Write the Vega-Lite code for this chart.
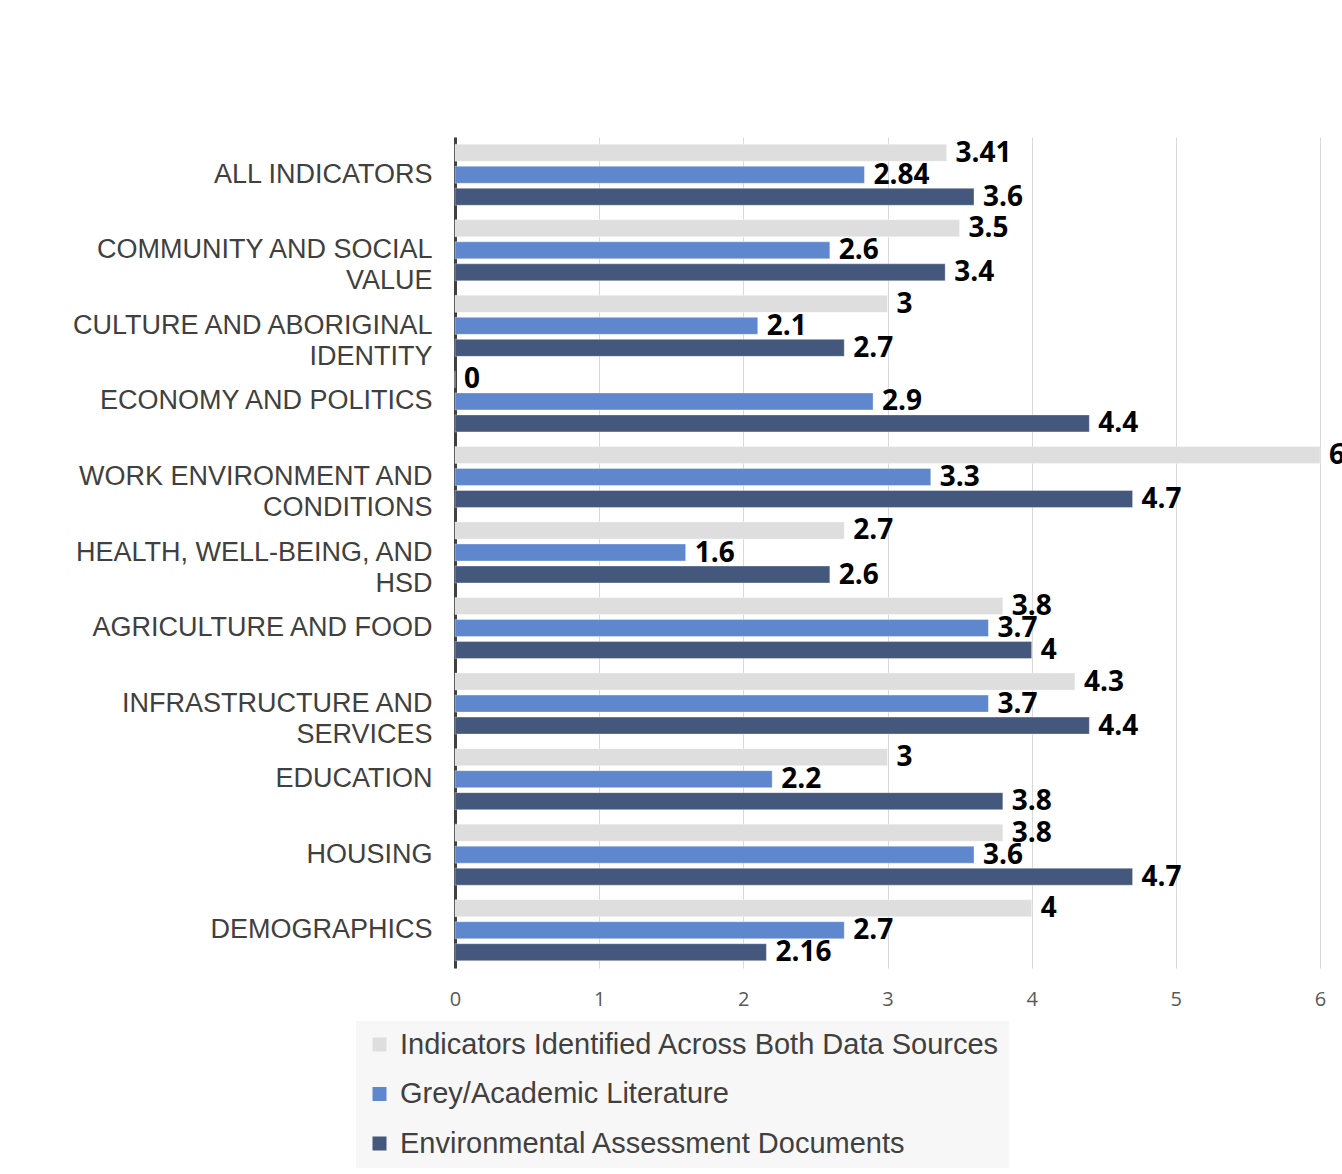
{
  "$schema": "https://vega.github.io/schema/vega-lite/v6.json",
  "autosize": "none",
  "padding": {"left": 455, "top": 137, "right": 22, "bottom": 206},
  "width": 865,
  "height": 831,
  "background": "#ffffff",
  "config": {
    "view": {"stroke": null},
    "font": "Liberation Sans"
  },
  "data": {
    "values": [
      {"cat": "ALL INDICATORS", "series": "Indicators Identified Across Both Data Sources", "ord": 1, "value": 3.41},
      {"cat": "ALL INDICATORS", "series": "Grey/Academic Literature", "ord": 2, "value": 2.84},
      {"cat": "ALL INDICATORS", "series": "Environmental Assessment Documents", "ord": 3, "value": 3.6},
      {"cat": "COMMUNITY AND SOCIAL|VALUE", "series": "Indicators Identified Across Both Data Sources", "ord": 1, "value": 3.5},
      {"cat": "COMMUNITY AND SOCIAL|VALUE", "series": "Grey/Academic Literature", "ord": 2, "value": 2.6},
      {"cat": "COMMUNITY AND SOCIAL|VALUE", "series": "Environmental Assessment Documents", "ord": 3, "value": 3.4},
      {"cat": "CULTURE AND ABORIGINAL|IDENTITY", "series": "Indicators Identified Across Both Data Sources", "ord": 1, "value": 3},
      {"cat": "CULTURE AND ABORIGINAL|IDENTITY", "series": "Grey/Academic Literature", "ord": 2, "value": 2.1},
      {"cat": "CULTURE AND ABORIGINAL|IDENTITY", "series": "Environmental Assessment Documents", "ord": 3, "value": 2.7},
      {"cat": "ECONOMY AND POLITICS", "series": "Indicators Identified Across Both Data Sources", "ord": 1, "value": 0},
      {"cat": "ECONOMY AND POLITICS", "series": "Grey/Academic Literature", "ord": 2, "value": 2.9},
      {"cat": "ECONOMY AND POLITICS", "series": "Environmental Assessment Documents", "ord": 3, "value": 4.4},
      {"cat": "WORK ENVIRONMENT AND|CONDITIONS", "series": "Indicators Identified Across Both Data Sources", "ord": 1, "value": 6},
      {"cat": "WORK ENVIRONMENT AND|CONDITIONS", "series": "Grey/Academic Literature", "ord": 2, "value": 3.3},
      {"cat": "WORK ENVIRONMENT AND|CONDITIONS", "series": "Environmental Assessment Documents", "ord": 3, "value": 4.7},
      {"cat": "HEALTH, WELL-BEING, AND|HSD", "series": "Indicators Identified Across Both Data Sources", "ord": 1, "value": 2.7},
      {"cat": "HEALTH, WELL-BEING, AND|HSD", "series": "Grey/Academic Literature", "ord": 2, "value": 1.6},
      {"cat": "HEALTH, WELL-BEING, AND|HSD", "series": "Environmental Assessment Documents", "ord": 3, "value": 2.6},
      {"cat": "AGRICULTURE AND FOOD", "series": "Indicators Identified Across Both Data Sources", "ord": 1, "value": 3.8},
      {"cat": "AGRICULTURE AND FOOD", "series": "Grey/Academic Literature", "ord": 2, "value": 3.7},
      {"cat": "AGRICULTURE AND FOOD", "series": "Environmental Assessment Documents", "ord": 3, "value": 4},
      {"cat": "INFRASTRUCTURE AND|SERVICES", "series": "Indicators Identified Across Both Data Sources", "ord": 1, "value": 4.3},
      {"cat": "INFRASTRUCTURE AND|SERVICES", "series": "Grey/Academic Literature", "ord": 2, "value": 3.7},
      {"cat": "INFRASTRUCTURE AND|SERVICES", "series": "Environmental Assessment Documents", "ord": 3, "value": 4.4},
      {"cat": "EDUCATION", "series": "Indicators Identified Across Both Data Sources", "ord": 1, "value": 3},
      {"cat": "EDUCATION", "series": "Grey/Academic Literature", "ord": 2, "value": 2.2},
      {"cat": "EDUCATION", "series": "Environmental Assessment Documents", "ord": 3, "value": 3.8},
      {"cat": "HOUSING", "series": "Indicators Identified Across Both Data Sources", "ord": 1, "value": 3.8},
      {"cat": "HOUSING", "series": "Grey/Academic Literature", "ord": 2, "value": 3.6},
      {"cat": "HOUSING", "series": "Environmental Assessment Documents", "ord": 3, "value": 4.7},
      {"cat": "DEMOGRAPHICS", "series": "Indicators Identified Across Both Data Sources", "ord": 1, "value": 4},
      {"cat": "DEMOGRAPHICS", "series": "Grey/Academic Literature", "ord": 2, "value": 2.7},
      {"cat": "DEMOGRAPHICS", "series": "Environmental Assessment Documents", "ord": 3, "value": 2.16}
    ]
  },
  "encoding": {
    "y": {
      "field": "cat",
      "type": "nominal",
      "sort": null,
      "scale": {"paddingInner": 0, "paddingOuter": 0},
      "axis": {
        "title": null,
        "labelExpr": "split(datum.label, '|')",
        "labelFont": "Liberation Sans",
        "labelFontSize": 27,
        "labelColor": "#404040",
        "labelLineHeight": 31,
        "labelPadding": 23,
        "labelLimit": 500,
        "labelOverlap": false,
        "ticks": false,
        "domain": true,
        "domainColor": "#404040",
        "domainWidth": 3,
        "grid": false
      }
    },
    "yOffset": {
      "field": "ord",
      "type": "ordinal",
      "scale": {"paddingInner": 0.227, "paddingOuter": 0.33}
    },
    "x": {
      "field": "value",
      "type": "quantitative",
      "scale": {"domain": [0, 6], "nice": false},
      "axis": {
        "title": null,
        "values": [0, 1, 2, 3, 4, 5, 6],
        "labelOverlap": false,
        "labelFlush": false,
        "domain": false,
        "ticks": false,
        "grid": true,
        "gridColor": "#d9d9d9",
        "gridWidth": 1,
        "labelFont": "Open Sans",
        "labelFontSize": 20,
        "labelColor": "#595959",
        "labelPadding": 21
      }
    }
  },
  "layer": [
    {
      "mark": {"type": "bar", "stroke": "#ffffff", "strokeOpacity": 0.35, "strokeWidth": 1},
      "encoding": {
        "color": {
          "field": "series",
          "type": "nominal",
          "sort": ["Indicators Identified Across Both Data Sources", "Grey/Academic Literature", "Environmental Assessment Documents"],
          "scale": {
            "domain": ["Indicators Identified Across Both Data Sources", "Grey/Academic Literature", "Environmental Assessment Documents"],
            "range": ["#dedede", "#5f87cd", "#44577d"]
          },
          "legend": {
            "title": null,
            "orient": "none",
            "legendX": -99,
            "legendY": 884,
            "direction": "vertical",
            "fillColor": "#f7f7f7",
            "padding": 9,
            "symbolType": "square",
            "symbolSize": 196,
            "symbolStrokeWidth": 0,
            "labelFont": "Liberation Sans",
            "labelFontSize": 29,
            "labelColor": "#404040",
            "labelOffset": 6,
            "labelLimit": 800,
            "rowPadding": 19.5
          }
        }
      }
    },
    {
      "mark": {"type": "text", "align": "left", "baseline": "middle", "dx": 9, "dy": 1, "font": "Open Sans", "fontWeight": "bold", "fontSize": 28, "color": "#000000"},
      "encoding": {
        "text": {"field": "value", "type": "nominal"}
      }
    }
  ]
}
